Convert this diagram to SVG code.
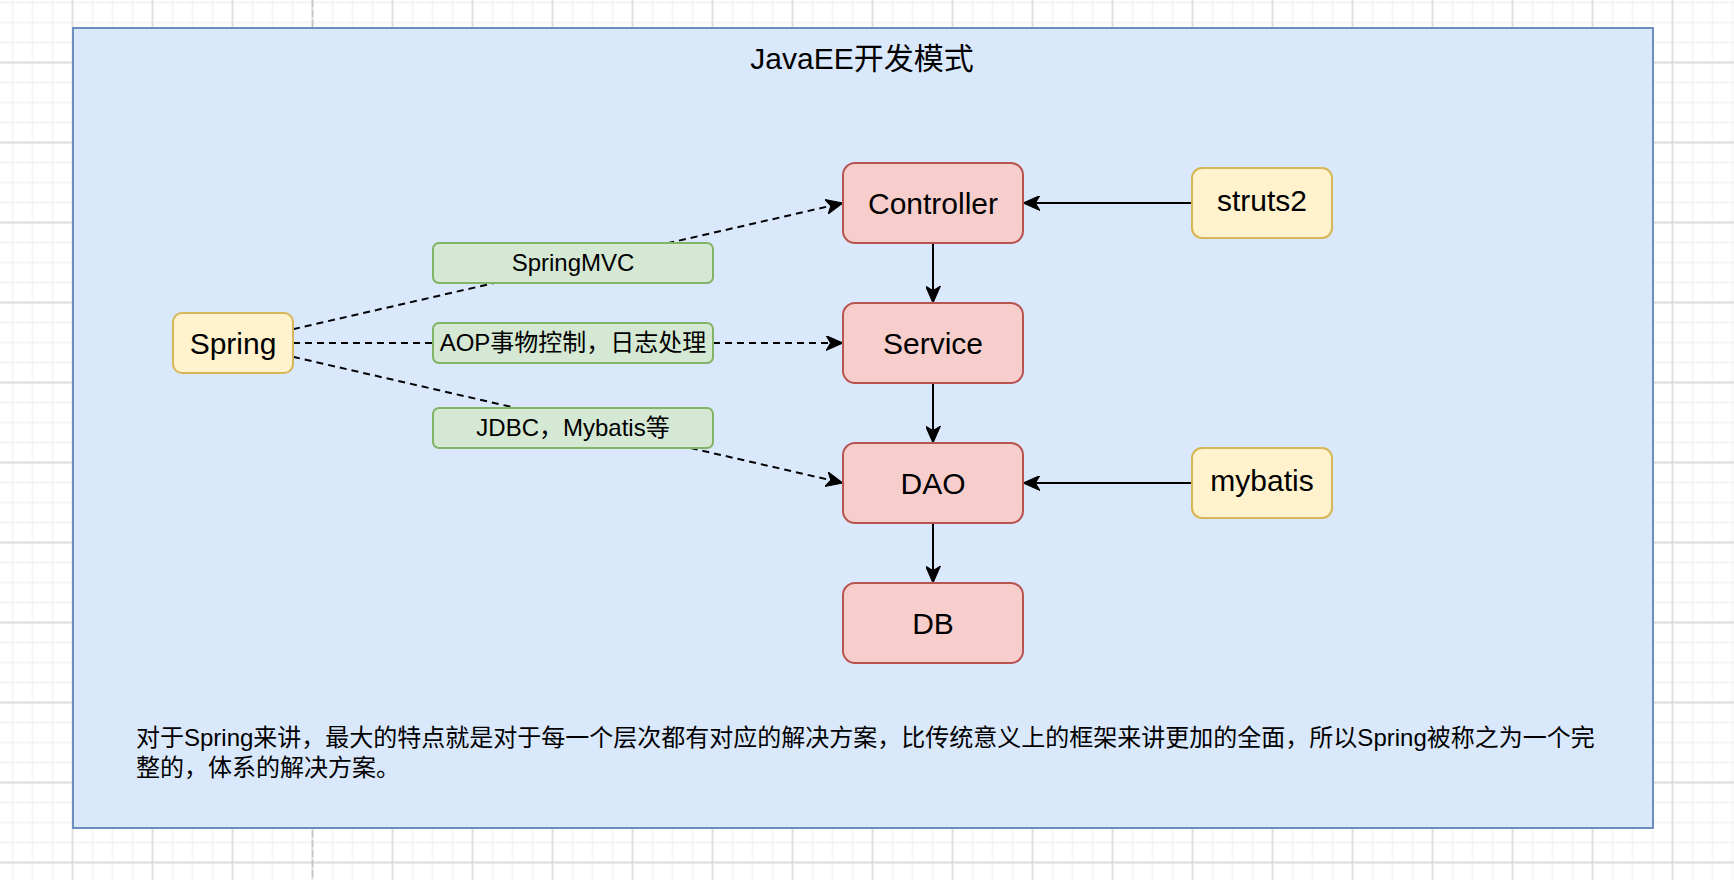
<svg xmlns="http://www.w3.org/2000/svg" width="1734" height="880" viewBox="0 0 1734 880">
<style>
.t{font-family:"Liberation Sans","Noto Sans CJK SC",sans-serif;fill:#000;}
.big{font-size:30px;text-anchor:middle;}
.lbl{font-size:24px;text-anchor:middle;}
.red{fill:#f8cecc;stroke:#b85450;stroke-width:2;}
.yel{fill:#fff2cc;stroke:#d6b656;stroke-width:2;}
.grn{fill:#d5e8d4;stroke:#82b366;stroke-width:2;}
.edge{fill:none;stroke:#000;stroke-width:2;}
.dash{stroke-dasharray:7 5;}
</style>
<defs>
<pattern id="minor" patternUnits="userSpaceOnUse" x="2.5" y="-7.5" width="20" height="20">
<path d="M10,0 V20 M0,10 H20" stroke="#f1f1f1" stroke-width="1.3" fill="none"/>
</pattern>
<pattern id="major" patternUnits="userSpaceOnUse" x="32.5" y="22.5" width="80" height="80">
<path d="M40,0 V80 M0,40 H80" stroke="#d6d6d6" stroke-width="1.3" fill="none"/>
</pattern>
<marker id="arr" viewBox="0 0 17 15" refX="4.5" refY="7.5" markerWidth="17" markerHeight="15" markerUnits="userSpaceOnUse" orient="auto">
<path d="M0,0 L17,7.5 L0,15 L4.5,7.5 Z" fill="#000" stroke="#000" stroke-width="1" stroke-linejoin="miter"/>
</marker>
</defs>
<g id="background">
<rect x="0" y="0" width="1734" height="880" fill="#fff"/>
<rect x="0" y="0" width="1734" height="880" fill="url(#minor)"/>
<rect x="0" y="0" width="1734" height="880" fill="url(#major)"/>
<line x1="312.5" y1="0" x2="312.5" y2="880" stroke="#c4c4c4" stroke-width="1.5" stroke-dasharray="7 3"/>
</g>
<g id="container">
<rect x="73" y="28" width="1580" height="800" fill="#dae8fc" stroke="#6c8ebf" stroke-width="2"/>
<text class="t big" x="862" y="69">JavaEE开发模式</text>
</g>
<g id="note">
<text class="t" x="136" y="746" font-size="24">对于Spring来讲，最大的特点就是对于每一个层次都有对应的解决方案，比传统意义上的框架来讲更加的全面，所以Spring被称之为一个完</text>
<text class="t" x="136" y="776" font-size="24">整的，体系的解决方案。</text>
</g>
<g id="connectors">
<line class="edge" x1="933" y1="243" x2="933" y2="290.5" marker-end="url(#arr)"/>
<line class="edge" x1="933" y1="383" x2="933" y2="430.5" marker-end="url(#arr)"/>
<line class="edge" x1="933" y1="523" x2="933" y2="570.5" marker-end="url(#arr)"/>
<line class="edge" x1="1192" y1="203" x2="1035.5" y2="203" marker-end="url(#arr)"/>
<line class="edge" x1="1192" y1="483" x2="1035.5" y2="483" marker-end="url(#arr)"/>
<line class="edge dash" x1="293" y1="329.2" x2="830.8" y2="205.8" marker-end="url(#arr)"/>
<line class="edge dash" x1="293" y1="343" x2="830.5" y2="343" marker-end="url(#arr)"/>
<line class="edge dash" x1="293" y1="356.8" x2="830.8" y2="480.2" marker-end="url(#arr)"/>
</g>
<g id="label-springmvc">
<rect class="grn" x="433" y="243" width="280" height="40" rx="6"/>
<text class="t lbl" x="573" y="271">SpringMVC</text>
</g>
<g id="label-aop">
<rect class="grn" x="433" y="323" width="280" height="40" rx="6"/>
<text class="t lbl" x="573" y="351">AOP事物控制，日志处理</text>
</g>
<g id="label-jdbc">
<rect class="grn" x="433" y="408" width="280" height="40" rx="6"/>
<text class="t lbl" x="573" y="436">JDBC，Mybatis等</text>
</g>
<g id="spring">
<rect class="yel" x="173" y="313" width="120" height="60" rx="9"/>
<text class="t big" x="233" y="353.5">Spring</text>
</g>
<g id="controller">
<rect class="red" x="843" y="163" width="180" height="80" rx="12"/>
<text class="t big" x="933" y="213.5">Controller</text>
</g>
<g id="service">
<rect class="red" x="843" y="303" width="180" height="80" rx="12"/>
<text class="t big" x="933" y="353.5">Service</text>
</g>
<g id="dao">
<rect class="red" x="843" y="443" width="180" height="80" rx="12"/>
<text class="t big" x="933" y="493.5">DAO</text>
</g>
<g id="db">
<rect class="red" x="843" y="583" width="180" height="80" rx="12"/>
<text class="t big" x="933" y="633.5">DB</text>
</g>
<g id="struts2">
<rect class="yel" x="1192" y="168" width="140" height="70" rx="10"/>
<text class="t big" x="1262" y="211">struts2</text>
</g>
<g id="mybatis">
<rect class="yel" x="1192" y="448" width="140" height="70" rx="10"/>
<text class="t big" x="1262" y="491">mybatis</text>
</g>
</svg>
